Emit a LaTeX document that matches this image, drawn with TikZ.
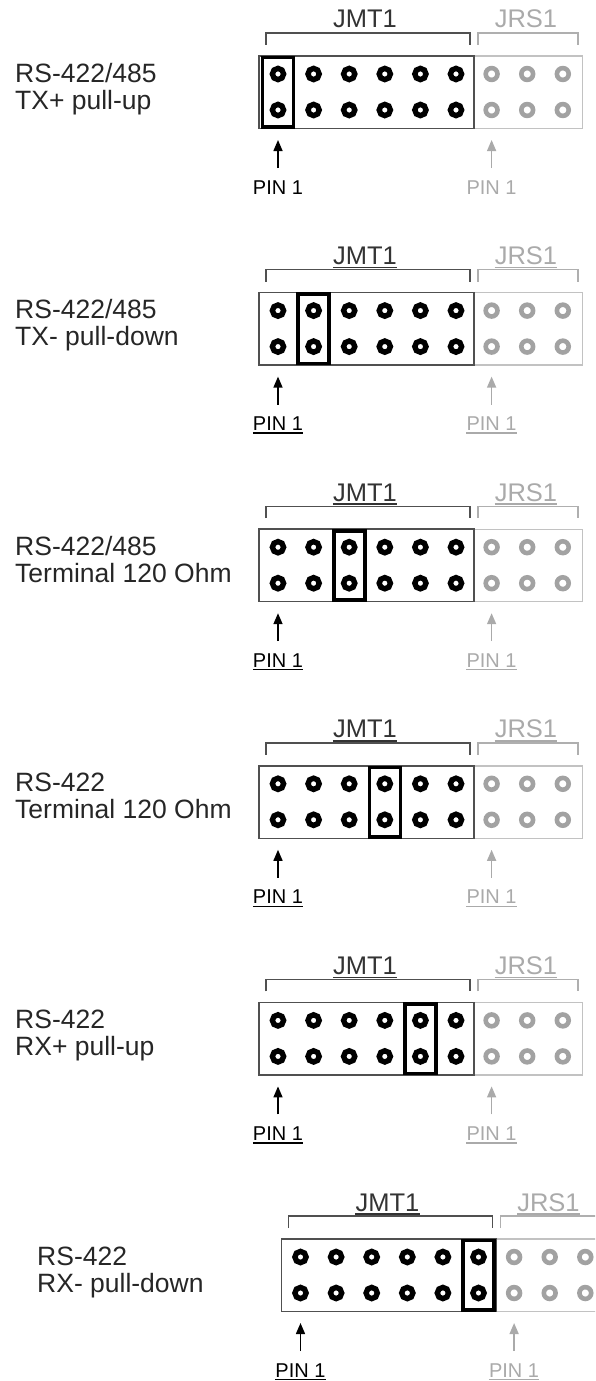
\documentclass[tikz,border=0pt]{standalone}
\usepackage{fontspec}
\setmainfont{Liberation Sans}
\usetikzlibrary{arrows.meta}

\definecolor{darkline}{HTML}{505050}
\definecolor{greypin}{HTML}{A2A2A2}
\definecolor{greyline}{HTML}{C2C2C2}
\definecolor{greytext}{HTML}{AAAAAA}

\tikzset{
    modelabel/.style={inner sep=0pt, anchor=base west, text=black!85, font=\fontsize{26.5}{30}\selectfont},
    hdrlabel/.style={inner sep=0pt, anchor=base, font=\fontsize{25.5}{30}\selectfont},
    pinlabel/.style={inner sep=0pt, anchor=base, font=\fontsize{20}{24}\selectfont},
    pinblack/.style={draw=black, line width=5.4pt},
    pingrey/.style={draw=greypin, line width=4.6pt},
    jumperbox/.style={draw=black, line width=3.6pt},
    pinarrow/.style={line width=1.5pt, -{Triangle[width=9pt, length=11pt]}},
}

\begin{document}
\begin{tikzpicture}[x=1pt, y=-1pt]
    \useasboundingbox (0,0) rectangle (595,1381);
    \clip (0,0) rectangle (595,1381);
    % one panel per jumper setting
    \foreach \p/\col/\lineA/\lineB/\xl/\xb/\ul in {
        1/1/{RS-422/485}/{TX+ pull-up}/15/259/0,
        2/2/{RS-422/485}/{TX- pull-down}/15/259/1,
        3/3/{RS-422/485}/{Terminal 120 Ohm}/15/259/1,
        4/4/{RS-422}/{Terminal 120 Ohm}/15/259/1,
        5/5/{RS-422}/{RX+ pull-up}/15/259/1,
        6/6/{RS-422}/{RX- pull-down}/37/281.5/1}
    {
        \pgfmathsetmacro\yb{56+236.6*(\p-1)}
        \begin{scope}[shift={(\xb,\yb)}]
            % mode text
            \node[modelabel] (mode\p a) at (\xl-\xb,26) {\lineA};
            \node[modelabel] (mode\p b) at (\xl-\xb,53) {\lineB};
            % headers
            \draw[greyline, line width=1.4pt] (215,0) rectangle (323.5,72.5);
            \draw[darkline, line width=1.5pt] (0,0) rectangle (215,72.5);
            \foreach \k in {1,...,6}
                \foreach \r in {18,54}
                    \draw[pinblack] (19+35.6*\k-35.6,\r) circle (5.6);
            \foreach \k in {7,8,9}
                \foreach \r in {18,54}
                    \draw[pingrey] (19+35.6*\k-35.6,\r) circle (5.9);
            \draw[jumperbox] (19+35.6*\col-35.6-15.5,1.5) rectangle +(31,69.5);
            % brackets and names
            \draw[darkline, line width=1.4pt] (7,-11) |- (211,-23) -- (211,-11);
            \draw[greyline!90!black, line width=1.4pt] (219,-11) |- (319,-23) -- (319,-11);
            \node[hdrlabel, text=black!80] (jmt\p) at (106,-28) {JMT1};
            \node[hdrlabel, text=greytext] (jrs\p) at (267,-28) {JRS1};
            % pin 1 markers
            \coordinate (tailA\p) at (19,112);
            \coordinate (tipA\p) at (19,84);
            \coordinate (tailB\p) at (232.6,112);
            \coordinate (tipB\p) at (232.6,84);
            \draw[pinarrow] (tailA\p) -- (tipA\p);
            \draw[pinarrow, greytext] (tailB\p) -- (tipB\p);
            \node[pinlabel] (pinA\p) at (19,138) {PIN 1};
            \node[pinlabel, text=greytext] (pinB\p) at (232.6,138) {PIN 1};
            \ifnum\ul=1
                \draw[black!80, line width=1.6pt] ([yshift=-3pt]jmt\p.base west) -- ([yshift=-3pt]jmt\p.base east);
                \draw[greytext, line width=1.6pt] ([yshift=-3pt]jrs\p.base west) -- ([yshift=-3pt]jrs\p.base east);
                \draw[black, line width=1.3pt] ([yshift=-2.5pt]pinA\p.base west) -- ([yshift=-2.5pt]pinA\p.base east);
                \draw[greytext, line width=1.3pt] ([yshift=-2.5pt]pinB\p.base west) -- ([yshift=-2.5pt]pinB\p.base east);
            \fi
        \end{scope}
    }
\end{tikzpicture}
\end{document}
